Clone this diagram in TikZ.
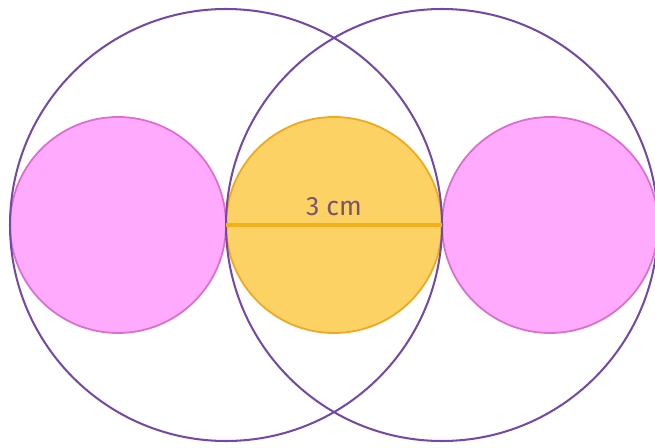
\documentclass[tikz,border=0pt]{standalone}
\usepackage{fontspec}
\setsansfont{Fira Sans}
\usepackage{tikz}
\definecolor{ringpurple}{RGB}{115,72,168}
\definecolor{pinkfill}{RGB}{255,170,252}
\definecolor{pinkline}{RGB}{222,110,205}
\definecolor{goldfill}{RGB}{252,210,100}
\definecolor{goldline}{RGB}{240,168,30}
\definecolor{labelgrey}{RGB}{120,85,110}

\begin{document}
\begin{tikzpicture}[
    small/.style={circle, inner sep=0pt, outer sep=0pt, minimum size=3cm, line width=0.7pt},
    pinkdisc/.style={small, draw=pinkline, fill=pinkfill},
    golddisc/.style={small, draw=goldline, fill=goldfill},
    ring/.style={circle, inner sep=0pt, outer sep=0pt, minimum size=6cm, draw=ringpurple, line width=0.8pt},
    diam/.style={-, draw=goldline!90!yellow, line width=1.6pt}
]
\useasboundingbox (-4.639,-3.097) rectangle (4.458,3.125);

% Small circles
\node[pinkdisc] (left) at (-3, 0) {};
\node[golddisc] (middle) at (0, 0) {};
\node[pinkdisc] (right) at (3, 0) {};

% Large circles
\node[ring] (bigleft) at (-1.5, 0) {};
\node[ring] (bigright) at (1.5, 0) {};

% Diameter
\draw[diam] (middle.west) -- (middle.east);
\node[font=\sffamily\fontsize{10.5}{12}\selectfont, text=labelgrey] (len) at (0, 0.25) {3 cm};

\end{tikzpicture}
\end{document}
